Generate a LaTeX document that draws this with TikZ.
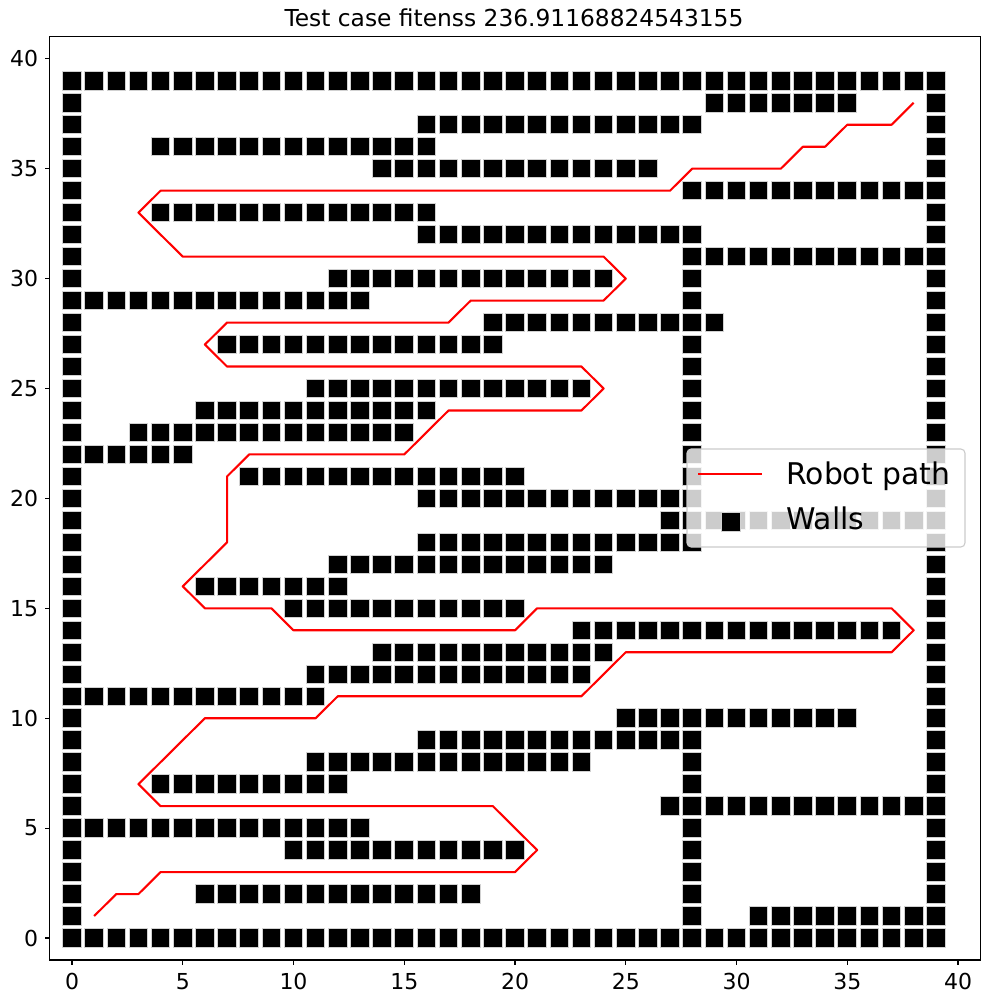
\documentclass[tikz,border=0pt]{standalone}
\usepackage{fontspec}
\setmainfont{DejaVu Sans}
\newcommand\wrow[3]{\foreach \xx in {#2,...,#3}{\path[wallsq] ({\xx-0.42},{#1-0.42}) rectangle ({\xx+0.42},{#1+0.42});}}
\newcommand\wcol[3]{\foreach \yy in {#2,...,#3}{\path[wallsq] ({#1-0.42},{\yy-0.42}) rectangle ({#1+0.42},{\yy+0.42});}}
\begin{document}
\begin{tikzpicture}[x=0.72pt,y=-0.72pt,
  wallsq/.style={fill=black,draw=black!18,line width=0.7pt},
  robot/.style={draw=red,line width=1.5pt,line join=round},
  ticklab/.style={font=\fontsize{15.84}{18}\selectfont,inner sep=0pt},
  tickmark/.style={line width=0.8pt}]
\useasboundingbox (0,0) rectangle (989,1003);
\fill[white] (0,0) rectangle (989,1003);
\node[anchor=base,inner sep=0pt,font=\fontsize{16.8}{20}\selectfont] (title) at (514,26.5) {Test case fitenss 236.91168824543155};
\begin{scope}[shift={(72,938)},x=15.948pt,y=15.8256pt]
  % walls
  \wrow{39}{0}{39}
  \wrow{38}{29}{35}
  \wrow{37}{16}{28}
  \wrow{36}{4}{16}
  \wrow{35}{14}{26}
  \wrow{34}{28}{38}
  \wrow{33}{4}{16}
  \wrow{32}{16}{28}
  \wrow{31}{28}{38}
  \wrow{30}{12}{24}
  \wrow{29}{1}{13}
  \wrow{28}{19}{29}
  \wrow{27}{7}{19}
  \wrow{25}{11}{23}
  \wrow{24}{6}{16}
  \wrow{23}{3}{15}
  \wrow{22}{1}{5}
  \wrow{21}{8}{20}
  \wrow{20}{16}{28}
  \wrow{19}{27}{38}
  \wrow{18}{16}{28}
  \wrow{17}{12}{24}
  \wrow{16}{6}{12}
  \wrow{15}{10}{20}
  \wrow{14}{23}{37}
  \wrow{13}{14}{24}
  \wrow{12}{11}{23}
  \wrow{11}{1}{11}
  \wrow{10}{25}{35}
  \wrow{9}{16}{28}
  \wrow{8}{11}{23}
  \wrow{7}{4}{12}
  \wrow{6}{27}{38}
  \wrow{5}{1}{13}
  \wrow{4}{10}{20}
  \wrow{2}{6}{18}
  \wrow{1}{31}{38}
  \wrow{0}{1}{38}
  \wcol{0}{0}{39}
  \wcol{39}{0}{39}
  \wcol{28}{21}{27}
  \wcol{28}{29}{31}
  \wcol{28}{1}{8}
  % robot path
  \draw[robot] (1,1) -- (2,2) -- (3,2) -- (4,3) -- (20,3) -- (21,4) -- (19,6) -- (4,6) -- (3,7) -- (6,10) -- (11,10) -- (12,11) -- (23,11) -- (25,13) -- (37,13) -- (38,14) -- (37,15) -- (21,15) -- (20,14) -- (10,14) -- (9,15) -- (6,15) -- (5,16) -- (7,18) -- (7,21) -- (8,22) -- (15,22) -- (17,24) -- (23,24) -- (24,25) -- (23,26) -- (7,26) -- (6,27) -- (7,28) -- (17,28) -- (18,29) -- (24,29) -- (25,30) -- (24,31) -- (5,31) -- (3,33) -- (4,34) -- (27,34) -- (28,35) -- (32,35) -- (33,36) -- (34,36) -- (35,37) -- (37,37) -- (38,38);
  % frame and ticks
  \draw[line width=0.8pt] (-1,-1) rectangle (41,41);
  \foreach \v in {0,5,...,40}{
    \draw[tickmark] (\v,-1) -- ++(0pt,-3.5pt);
    \draw[tickmark] (-1,\v) -- ++(-3.5pt,0pt);
  }
\end{scope}
% tick labels
\foreach \v in {0,5,...,40}{
  \node[ticklab,anchor=base] (xt\v) at ({72+22.15*\v},989) {\v};
  \node[ticklab,anchor=east] (yt\v) at (38.5,{938-21.98*\v}) {\v};
}
% legend
\draw[draw=black!20,fill=white,fill opacity=0.8,rounded corners=3pt,line width=0.8pt] (687,449) rectangle (965,547);
\draw[robot] (698,474) -- (762,474);
\path[wallsq] (721.5,512.5) rectangle (740,531);
\node[anchor=base west,inner sep=0pt,font=\fontsize{21.5}{24}\selectfont] (lg1) at (786,484) {Robot path};
\node[anchor=base west,inner sep=0pt,font=\fontsize{21.5}{24}\selectfont] (lg2) at (786,529.3) {Walls};
\end{tikzpicture}
\end{document}
